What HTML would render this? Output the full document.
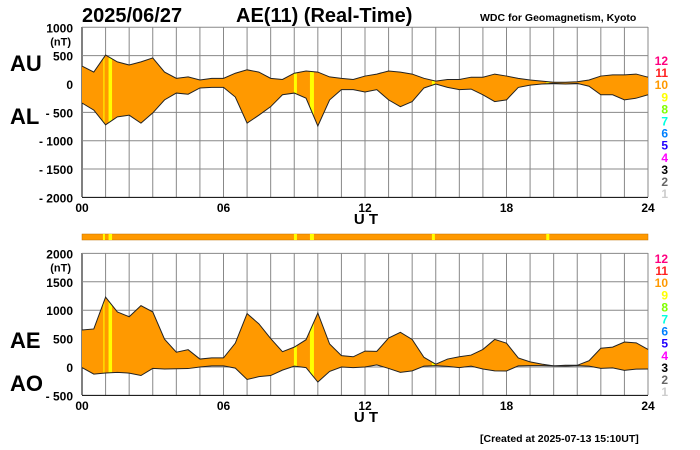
<!DOCTYPE html>
<html><head><meta charset="utf-8"><style>
body{margin:0;background:#fff;}
svg{display:block;font-family:"Liberation Sans",sans-serif;font-weight:bold;}
</style></head><body>
<svg id="c" width="700" height="450" viewBox="0 0 700 450">
<text x="82" y="22" font-size="20">2025/06/27</text>
<text x="236" y="22" font-size="20">AE(11) (Real-Time)</text>
<text x="480" y="21" font-size="10.5">WDC for Geomagnetism, Kyoto</text>
<text x="10" y="71" font-size="22">AU</text>
<text x="10" y="124" font-size="22">AL</text>
<text x="10" y="348" font-size="22">AE</text>
<text x="10" y="391" font-size="22">AO</text>
<text x="480" y="442" font-size="10.5">[Created at 2025-07-13 15:10UT]</text>
<g id="g"></g>
</svg>
<script>
const hours=[0,0.5,1,1.5,2,2.5,3,3.5,4,4.5,5,5.5,6,6.5,7,7.5,8,8.5,9,9.5,10,10.5,11,11.5,12,12.5,13,13.5,14,14.5,15,15.5,16,16.5,17,17.5,18,18.5,19,19.5,20,20.5,21,21.5,22,22.5,23,23.5,24];
const au=[317,210,510,390,335,390,460,210,100,125,70,100,100,190,250,210,100,80,190,230,210,125,100,80,140,175,230,210,175,100,50,80,80,120,120,175,140,100,70,50,30,30,40,70,140,160,160,175,120];
const al=[-335,-460,-720,-580,-550,-690,-510,-280,-160,-180,-70,-60,-60,-230,-690,-550,-400,-190,-160,-250,-740,-280,-100,-100,-140,-100,-280,-400,-310,-70,0,-60,-100,-90,-190,-310,-280,-60,-20,0,10,0,10,-40,-190,-190,-280,-250,-190];
const yellowTimes=[0.93,1.2,9.05,9.75,14.9,19.75];
const yellowWidths=[1,3.5,3,4,3,3];
const topTicks=[1000,500,0,-500,-1000,-1500,-2000];
const botTicks=[2000,1500,1000,500,0,-500];
const xTicks=["00","06","12","18","24"];
const legendNums=["12","11","10","9","8","7","6","5","4","3","2","1"];
const legendCols=["#ff0080","#ff2020","#ff9900","#ffff00","#80ff00","#00ffe0","#0080ff","#2000ff","#ff00ff","#000","#666","#ccc"];
const ae=au.map((v,i)=>v-al[i]);
const ao=au.map((v,i)=>(v+al[i])/2);
const NS="http://www.w3.org/2000/svg",G=document.getElementById('g');
const X0=82,X1=648;
const x=h=>X0+(X1-X0)*h/24;
const yT=v=>84-v*0.0567;
const yB=v=>367-v*0.0568;
function mk(t,a,p){const e=document.createElementNS(NS,t);for(const k in a)e.setAttribute(k,a[k]);(p||G).appendChild(e);return e;}
function panel(id,yf,ticks,upper,lower,top,bot,tickY,utY,legTop){
  for(let h=0;h<=24;h++){const l=mk('line',{x1:x(h),x2:x(h),y1:top,y2:bot,stroke:h==0?'#000':'#888','stroke-width':1});
    }
  ticks.forEach((t,i)=>{const l=mk('line',{x1:X0,x2:X1,y1:yf(t),y2:yf(t),stroke:i==ticks.length-1?'#000':'#888'});
    
    const tx=mk('text',{x:73,y:yf(t)+5,'font-size':12,'text-anchor':'end'});tx.textContent=(t<0?'- '+(-t):t);
    });
  const nt=mk('text',{x:71,y:yf(ticks[0])+18,'font-size':11,'text-anchor':'end'});nt.textContent='(nT)';
  
  let d='M'+hours.map((h,i)=>x(h)+','+yf(upper[i])).join('L');
  for(let i=hours.length-1;i>=0;i--)d+='L'+x(hours[i])+','+yf(lower[i]);d+='Z';
  const cp=mk('clipPath',{id:id});mk('path',{d:d},cp);
  const f=mk('path',{d:d,fill:'#ff9900'});
  yellowTimes.forEach((h,i)=>{const w=yellowWidths[i];const r=mk('rect',{x:x(h)-w/2,y:top,width:w,height:bot-top,fill:'#ffff00','clip-path':'url(#'+id+')'});
    });
  [upper,lower].forEach((s,k)=>{const p=mk('polyline',{points:hours.map((h,i)=>x(h)+','+yf(s[i])).join(' '),fill:'none',stroke:'#222','stroke-width':1});
    });
  xTicks.forEach((t,i)=>{const tx=mk('text',{x:x(i*6),y:tickY,'font-size':12,'text-anchor':'middle'});tx.textContent=t;
    });
  const ut=mk('text',{x:366,y:utY,'font-size':15,'text-anchor':'middle'});ut.textContent='U T';
  
  legendNums.forEach((n,i)=>{const tx=mk('text',{x:668,y:legTop+i*12.1,'font-size':12,'text-anchor':'end',fill:legendCols[i]});tx.textContent=n;
    });
}
panel('aual',yT,topTicks,au,al,27,197,212,224,65);
panel('aeao',yB,botTicks,ae,ao,253,395,410,422,263);
const sb=mk('rect',{x:X0,y:234,width:X1-X0,height:6,fill:'#ff9900',stroke:'#c07000','stroke-width':0.5});

yellowTimes.forEach((h,i)=>{const w=Math.max(2,yellowWidths[i]);const r=mk('rect',{x:x(h)-w/2,y:234,width:w,height:6,fill:'#ffff00'});
  });
</script>
</body></html>
